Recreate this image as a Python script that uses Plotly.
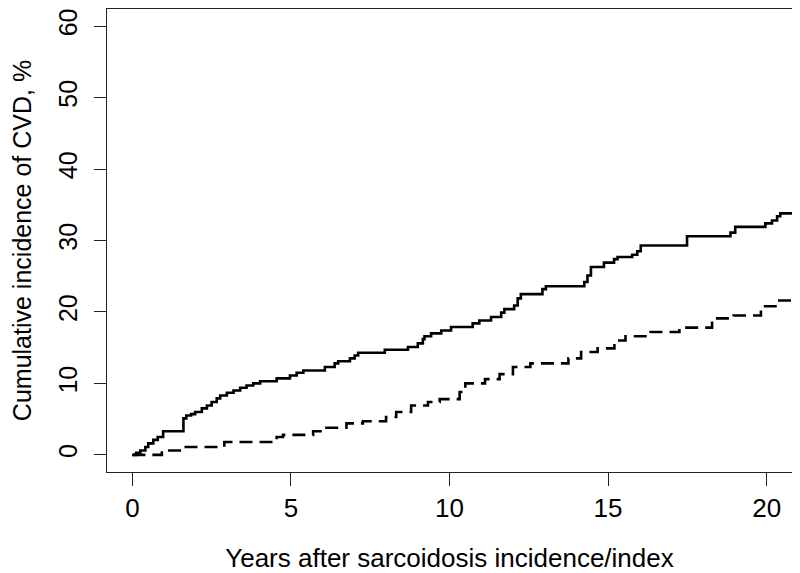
import plotly.graph_objects as go

# Sarcoidosis group (solid): event times (years) and cumulative incidence (%)
sarc_years = [0, 0.12, 0.25, 0.41, 0.5, 0.66, 0.8, 0.97, 1.61, 1.7, 1.85, 1.98, 2.19, 2.35, 2.5,
              2.66, 2.77, 2.98, 3.19, 3.4, 3.6, 3.81, 4.03, 4.55, 4.97, 5.18, 5.39, 6.07, 6.38,
              6.49, 6.86, 7.01, 7.12, 7.96, 8.69, 9.0, 9.16, 9.21, 9.42, 9.74, 10.05, 10.73,
              10.94, 11.31, 11.63, 11.73, 12.04, 12.15, 12.25, 12.93, 13.04, 14.25, 14.35,
              14.46, 14.87, 15.19, 15.3, 15.76, 15.92, 16.03, 17.49, 18.86, 19.01, 19.96,
              20.17, 20.33, 20.43, 20.8]
sarc_cvd = [0, 0.3, 0.6, 1.1, 1.6, 2.1, 2.5, 3.3, 5.1, 5.5, 5.7, 6.0, 6.5, 6.9, 7.4,
            7.9, 8.3, 8.7, 9.0, 9.4, 9.7, 10.0, 10.3, 10.7, 11.1, 11.5, 11.8, 12.3, 12.8,
            13.1, 13.5, 13.9, 14.3, 14.7, 15.1, 15.6, 16.2, 16.6, 17.0, 17.4, 17.9, 18.4,
            18.8, 19.3, 19.9, 20.4, 20.9, 21.9, 22.5, 23.2, 23.6, 24.2, 25.1,
            26.3, 26.9, 27.4, 27.7, 28.0, 28.5, 29.3, 30.6, 31.1, 31.9, 32.4,
            32.8, 33.4, 33.8, 33.8]

# Comparison group (dashed)
comp_years = [0, 0.93, 1.6, 2.9, 4.55, 4.75, 5.7, 6.12, 6.75, 7.27, 8.0, 8.32, 8.79, 9.32,
              9.69, 10.32, 10.5, 11.12, 11.58, 12.0, 12.55, 13.75, 14.15, 14.67, 15.2,
              15.55, 16.34, 17.25, 18.28, 18.96, 19.82, 20.4, 20.8]
comp_cvd = [0, 0.6, 1.1, 1.8, 2.5, 2.8, 3.3, 3.8, 4.4, 4.7, 5.3, 6.0, 6.9, 7.4,
            7.8, 8.8, 10.0, 10.6, 11.3, 12.3, 12.8, 13.5, 14.4, 14.9, 16.0,
            16.6, 17.2, 17.8, 19.1, 19.5, 20.8, 21.6, 21.6]

x_ticks = [0, 5, 10, 15, 20]
y_ticks = [0, 10, 20, 30, 40, 50, 60]

FONT = "Liberation Sans, Arial, Helvetica, sans-serif"

fig = go.Figure()
fig.add_trace(go.Scatter(x=sarc_years, y=sarc_cvd, mode="lines", line_shape="hv",
                         line=dict(color="black", width=2.6), showlegend=False))
fig.add_trace(go.Scatter(x=comp_years, y=comp_cvd, mode="lines", line_shape="hv",
                         line=dict(color="black", width=2.6, dash="13px,7px"), showlegend=False))

# page body adds an 8px offset, so the figure is 8px smaller and margins compensate
fig.update_layout(
    width=792, height=565,
    margin=dict(l=99, r=8, t=1, b=101),
    plot_bgcolor="white", paper_bgcolor="white",
    font=dict(family=FONT, size=25, color="black"),
)
fig.update_xaxes(range=[-0.8, 20.8], tickvals=x_ticks, ticktext=[str(v) for v in x_ticks],
                 showgrid=False, zeroline=False, showline=True, mirror=True,
                 linecolor="#222222", linewidth=1.3, ticks="outside", ticklen=13,
                 tickcolor="#222222", tickwidth=1.3, ticklabelstandoff=0,
                 ticklabeloverflow="allow",
                 tickfont=dict(size=26), automargin=False,
                 title=dict(text="Years after sarcoidosis incidence/index", standoff=29,
                            font=dict(size=26)))
fig.update_yaxes(range=[-2.4, 62.4], tickvals=y_ticks, ticktext=[str(v) for v in y_ticks],
                 showgrid=False, zeroline=False, showline=True, mirror=True,
                 linecolor="#222222", linewidth=1.3, ticks="outside", ticklen=12,
                 tickcolor="#222222", tickwidth=1.3, tickangle=-90, ticklabelstandoff=7,
                 ticklabeloverflow="allow",
                 tickfont=dict(size=25), automargin=False,
                 title=dict(text="Cumulative incidence of CVD, %", standoff=25,
                            font=dict(size=25)))

fig.write_html("out.html")
